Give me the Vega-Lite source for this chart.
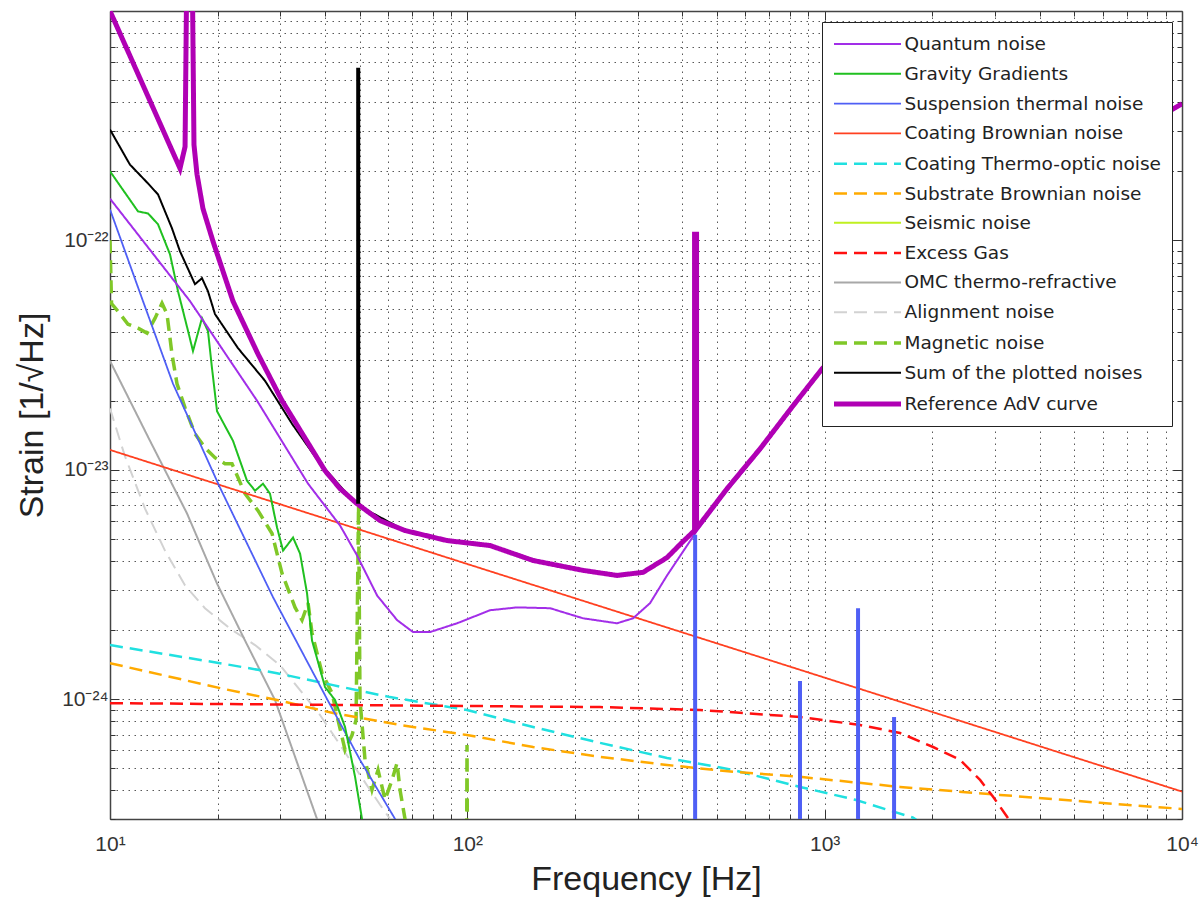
{
  "$schema": "https://vega.github.io/schema/vega-lite/v6.json",
  "width": 1072,
  "height": 808,
  "autosize": {"type": "none"},
  "padding": {"left": 110, "top": 11, "right": 21, "bottom": 84},
  "background": "white",
  "config": {
    "view": {"stroke": null},
    "font": "Liberation Sans",
    "legend": {
      "orient": "none", "legendX": 712, "legendY": 11,
      "symbolType": "M-3.35,0H3.35", "symbolSize": 400, "symbolOffset": 22,
      "labelFont": "DejaVu Sans", "labelFontSize": 18.5, "labelColor": "#222",
      "labelLimit": 0, "rowPadding": 8.8, "padding": 11,
      "fillColor": "white", "strokeColor": "#222", "labelOffset": 24.5
    }
  },
  "datasets": {
    "lines": [
      {"s": "Alignment noise", "f": 10, "v": 1.85e-23},
      {"s": "Alignment noise", "f": 11.0, "v": 1.15e-23},
      {"s": "Alignment noise", "f": 12.53, "v": 6.77e-24},
      {"s": "Alignment noise", "f": 14.25, "v": 4.44e-24},
      {"s": "Alignment noise", "f": 16.22, "v": 3.13e-24},
      {"s": "Alignment noise", "f": 18.44, "v": 2.49e-24},
      {"s": "Alignment noise", "f": 21.67, "v": 2.03e-24},
      {"s": "Alignment noise", "f": 25.46, "v": 1.72e-24},
      {"s": "Alignment noise", "f": 29.91, "v": 1.405e-24},
      {"s": "Alignment noise", "f": 34.03, "v": 1.094e-24},
      {"s": "Alignment noise", "f": 38.71, "v": 8.52e-25},
      {"s": "Alignment noise", "f": 44.04, "v": 6.31e-25},
      {"s": "Alignment noise", "f": 50.08, "v": 4.67e-25},
      {"s": "Alignment noise", "f": 56.98, "v": 3.46e-25},
      {"s": "Alignment noise", "f": 60.78, "v": 3.0e-25},
      {"s": "Alignment noise", "f": 62, "v": 2.5e-25},

      {"s": "OMC thermo-refractive", "f": 10, "v": 2.98e-23},
      {"s": "OMC thermo-refractive", "f": 12.94, "v": 1.337e-23},
      {"s": "OMC thermo-refractive", "f": 16.43, "v": 6.44e-24},
      {"s": "OMC thermo-refractive", "f": 19.93, "v": 3.19e-24},
      {"s": "OMC thermo-refractive", "f": 23.87, "v": 1.8e-24},
      {"s": "OMC thermo-refractive", "f": 28.96, "v": 9.9e-25},
      {"s": "OMC thermo-refractive", "f": 37.96, "v": 3.0e-25},
      {"s": "OMC thermo-refractive", "f": 39, "v": 2.5e-25},

      {"s": "Seismic noise", "f": 10, "v": 1e-26},
      {"s": "Seismic noise", "f": 12, "v": 5e-27},

      {"s": "Magnetic noise", "f": 10, "v": 1.0e-22},
      {"s": "Magnetic noise", "f": 10.1, "v": 5.3e-23},
      {"s": "Magnetic noise", "f": 10.53, "v": 4.91e-23},
      {"s": "Magnetic noise", "f": 11.23, "v": 4.31e-23},
      {"s": "Magnetic noise", "f": 11.98, "v": 4.14e-23},
      {"s": "Magnetic noise", "f": 12.69, "v": 3.94e-23},
      {"s": "Magnetic noise", "f": 13.37, "v": 4.58e-23},
      {"s": "Magnetic noise", "f": 13.98, "v": 5.32e-23},
      {"s": "Magnetic noise", "f": 14.44, "v": 4.77e-23},
      {"s": "Magnetic noise", "f": 14.91, "v": 3.19e-23},
      {"s": "Magnetic noise", "f": 15.4, "v": 2.37e-23},
      {"s": "Magnetic noise", "f": 16.22, "v": 1.86e-23},
      {"s": "Magnetic noise", "f": 17.29, "v": 1.434e-23},
      {"s": "Magnetic noise", "f": 18.44, "v": 1.247e-23},
      {"s": "Magnetic noise", "f": 19.67, "v": 1.128e-23},
      {"s": "Magnetic noise", "f": 20.98, "v": 1.062e-23},
      {"s": "Magnetic noise", "f": 21.95, "v": 1.062e-23},
      {"s": "Magnetic noise", "f": 23.87, "v": 7.86e-24},
      {"s": "Magnetic noise", "f": 25.96, "v": 6.63e-24},
      {"s": "Magnetic noise", "f": 28.41, "v": 5.27e-24},
      {"s": "Magnetic noise", "f": 30.3, "v": 3.53e-24},
      {"s": "Magnetic noise", "f": 32.95, "v": 2.51e-24},
      {"s": "Magnetic noise", "f": 34.47, "v": 2.21e-24},
      {"s": "Magnetic noise", "f": 35.83, "v": 2.62e-24},
      {"s": "Magnetic noise", "f": 36.76, "v": 1.94e-24},
      {"s": "Magnetic noise", "f": 39.21, "v": 1.297e-24},
      {"s": "Magnetic noise", "f": 41.82, "v": 1.062e-24},
      {"s": "Magnetic noise", "f": 43.47, "v": 8.1e-25},
      {"s": "Magnetic noise", "f": 45.48, "v": 6.0e-25},
      {"s": "Magnetic noise", "f": 47.58, "v": 6.97e-25},
      {"s": "Magnetic noise", "f": 48.82, "v": 8.1e-25},
      {"s": "Magnetic noise", "f": 49.61, "v": 6.97e-24},
      {"s": "Magnetic noise", "f": 50.08, "v": 9.9e-25},
      {"s": "Magnetic noise", "f": 51.72, "v": 5.43e-25},
      {"s": "Magnetic noise", "f": 54.11, "v": 4.02e-25},
      {"s": "Magnetic noise", "f": 56.25, "v": 4.91e-25},
      {"s": "Magnetic noise", "f": 58.85, "v": 3.64e-25},
      {"s": "Magnetic noise", "f": 61.57, "v": 4.44e-25},
      {"s": "Magnetic noise", "f": 63.59, "v": 5.27e-25},
      {"s": "Magnetic noise", "f": 64.8, "v": 4.02e-25},
      {"s": "Magnetic noise", "f": 66.93, "v": 3.0e-25},
      {"s": "Magnetic noise", "f": 67.5, "v": 2e-25},
      {"s": "Magnetic noise", "f": 99.5, "v": 2e-25},
      {"s": "Magnetic noise", "f": 99.8, "v": 6.31e-25},
      {"s": "Magnetic noise", "f": 100.1, "v": 2e-25},

      {"s": "Coating Thermo-optic noise", "f": 10, "v": 1.72e-24},
      {"s": "Coating Thermo-optic noise", "f": 20.32, "v": 1.434e-24},
      {"s": "Coating Thermo-optic noise", "f": 29.34, "v": 1.297e-24},
      {"s": "Coating Thermo-optic noise", "f": 42.09, "v": 1.15e-24},
      {"s": "Coating Thermo-optic noise", "f": 60.78, "v": 1.02e-24},
      {"s": "Coating Thermo-optic noise", "f": 99.8, "v": 8.96e-25},
      {"s": "Coating Thermo-optic noise", "f": 152.8, "v": 7.55e-25},
      {"s": "Coating Thermo-optic noise", "f": 235.2, "v": 6.44e-25},
      {"s": "Coating Thermo-optic noise", "f": 362.2, "v": 5.54e-25},
      {"s": "Coating Thermo-optic noise", "f": 554.2, "v": 4.91e-25},
      {"s": "Coating Thermo-optic noise", "f": 853.4, "v": 4.14e-25},
      {"s": "Coating Thermo-optic noise", "f": 1217, "v": 3.64e-25},
      {"s": "Coating Thermo-optic noise", "f": 1768, "v": 3.04e-25},
      {"s": "Coating Thermo-optic noise", "f": 1850, "v": 2.9e-25},

      {"s": "Substrate Brownian noise", "f": 10, "v": 1.434e-24},
      {"s": "Substrate Brownian noise", "f": 20.32, "v": 1.116e-24},
      {"s": "Substrate Brownian noise", "f": 29.34, "v": 9.9e-25},
      {"s": "Substrate Brownian noise", "f": 42.09, "v": 8.69e-25},
      {"s": "Substrate Brownian noise", "f": 64.8, "v": 7.71e-25},
      {"s": "Substrate Brownian noise", "f": 99.8, "v": 6.97e-25},
      {"s": "Substrate Brownian noise", "f": 152.8, "v": 6.18e-25},
      {"s": "Substrate Brownian noise", "f": 235.2, "v": 5.6e-25},
      {"s": "Substrate Brownian noise", "f": 362.2, "v": 5.16e-25},
      {"s": "Substrate Brownian noise", "f": 554.2, "v": 4.82e-25},
      {"s": "Substrate Brownian noise", "f": 853.4, "v": 4.58e-25},
      {"s": "Substrate Brownian noise", "f": 1626, "v": 4.14e-25},
      {"s": "Substrate Brownian noise", "f": 3097, "v": 3.82e-25},
      {"s": "Substrate Brownian noise", "f": 5901, "v": 3.53e-25},
      {"s": "Substrate Brownian noise", "f": 10000, "v": 3.32e-25},

      {"s": "Excess Gas", "f": 10, "v": 9.6e-25},
      {"s": "Excess Gas", "f": 235.2, "v": 9.23e-25},
      {"s": "Excess Gas", "f": 448, "v": 8.96e-25},
      {"s": "Excess Gas", "f": 853.4, "v": 8.35e-25},
      {"s": "Excess Gas", "f": 1256, "v": 7.71e-25},
      {"s": "Excess Gas", "f": 1626, "v": 7.11e-25},
      {"s": "Excess Gas", "f": 2011, "v": 6.18e-25},
      {"s": "Excess Gas", "f": 2393, "v": 5.43e-25},
      {"s": "Excess Gas", "f": 2722, "v": 4.44e-25},
      {"s": "Excess Gas", "f": 2960, "v": 3.75e-25},
      {"s": "Excess Gas", "f": 3239, "v": 3.07e-25},
      {"s": "Excess Gas", "f": 3346, "v": 2.8e-25},

      {"s": "Coating Brownian noise", "f": 10, "v": 1.22e-23},
      {"s": "Coating Brownian noise", "f": 100, "v": 3.88e-24},
      {"s": "Coating Brownian noise", "f": 1000, "v": 1.24e-24},
      {"s": "Coating Brownian noise", "f": 10000, "v": 3.95e-25},

      {"s": "Suspension thermal noise", "f": 10, "v": 1.364e-22},
      {"s": "Suspension thermal noise", "f": 12.37, "v": 5.43e-23},
      {"s": "Suspension thermal noise", "f": 15.01, "v": 2.37e-23},
      {"s": "Suspension thermal noise", "f": 20.32, "v": 8.35e-24},
      {"s": "Suspension thermal noise", "f": 28.59, "v": 2.78e-24},
      {"s": "Suspension thermal noise", "f": 40.5, "v": 1.0e-24},
      {"s": "Suspension thermal noise", "f": 50.08, "v": 5.43e-25},
      {"s": "Suspension thermal noise", "f": 62.77, "v": 3.0e-25},
      {"s": "Suspension thermal noise", "f": 64, "v": 2.5e-25},

      {"s": "Gravity Gradients", "f": 10, "v": 2.0e-22},
      {"s": "Gravity Gradients", "f": 11.98, "v": 1.337e-22},
      {"s": "Gravity Gradients", "f": 12.78, "v": 1.31e-22},
      {"s": "Gravity Gradients", "f": 13.63, "v": 1.174e-22},
      {"s": "Gravity Gradients", "f": 14.72, "v": 8.69e-23},
      {"s": "Gravity Gradients", "f": 15.5, "v": 6.0e-23},
      {"s": "Gravity Gradients", "f": 16.54, "v": 4.02e-23},
      {"s": "Gravity Gradients", "f": 17.07, "v": 3.29e-23},
      {"s": "Gravity Gradients", "f": 18.09, "v": 4.58e-23},
      {"s": "Gravity Gradients", "f": 18.8, "v": 4.02e-23},
      {"s": "Gravity Gradients", "f": 19.29, "v": 2.78e-23},
      {"s": "Gravity Gradients", "f": 19.93, "v": 1.8e-23},
      {"s": "Gravity Gradients", "f": 22.09, "v": 1.337e-23},
      {"s": "Gravity Gradients", "f": 24.17, "v": 8.96e-24},
      {"s": "Gravity Gradients", "f": 25.46, "v": 8.1e-24},
      {"s": "Gravity Gradients", "f": 26.8, "v": 8.69e-24},
      {"s": "Gravity Gradients", "f": 28.04, "v": 7.86e-24},
      {"s": "Gravity Gradients", "f": 29.34, "v": 5.6e-24},
      {"s": "Gravity Gradients", "f": 30.5, "v": 4.44e-24},
      {"s": "Gravity Gradients", "f": 32.53, "v": 5.06e-24},
      {"s": "Gravity Gradients", "f": 34.03, "v": 4.31e-24},
      {"s": "Gravity Gradients", "f": 35.6, "v": 2.89e-24},
      {"s": "Gravity Gradients", "f": 36.76, "v": 1.8e-24},
      {"s": "Gravity Gradients", "f": 39.98, "v": 1.128e-24},
      {"s": "Gravity Gradients", "f": 42.64, "v": 9.9e-25},
      {"s": "Gravity Gradients", "f": 45.48, "v": 7.55e-25},
      {"s": "Gravity Gradients", "f": 48.51, "v": 4.58e-25},
      {"s": "Gravity Gradients", "f": 50.73, "v": 3.0e-25},
      {"s": "Gravity Gradients", "f": 51.5, "v": 2.5e-25},

      {"s": "Quantum noise", "f": 10, "v": 1.52e-22},
      {"s": "Quantum noise", "f": 16.75, "v": 5.43e-23},
      {"s": "Quantum noise", "f": 25.79, "v": 2.0e-23},
      {"s": "Quantum noise", "f": 35.83, "v": 8.69e-24},
      {"s": "Quantum noise", "f": 44.04, "v": 5.71e-24},
      {"s": "Quantum noise", "f": 49.13, "v": 4.23e-24},
      {"s": "Quantum noise", "f": 55.9, "v": 2.83e-24},
      {"s": "Quantum noise", "f": 63.59, "v": 2.21e-24},
      {"s": "Quantum noise", "f": 70.47, "v": 1.96e-24},
      {"s": "Quantum noise", "f": 78.63, "v": 1.96e-24},
      {"s": "Quantum noise", "f": 93.59, "v": 2.14e-24},
      {"s": "Quantum noise", "f": 115.8, "v": 2.44e-24},
      {"s": "Quantum noise", "f": 137.8, "v": 2.51e-24},
      {"s": "Quantum noise", "f": 170.4, "v": 2.49e-24},
      {"s": "Quantum noise", "f": 210.8, "v": 2.25e-24},
      {"s": "Quantum noise", "f": 262.4, "v": 2.14e-24},
      {"s": "Quantum noise", "f": 290.9, "v": 2.25e-24},
      {"s": "Quantum noise", "f": 324.6, "v": 2.62e-24},
      {"s": "Quantum noise", "f": 362.2, "v": 3.46e-24},
      {"s": "Quantum noise", "f": 439.5, "v": 5.43e-24},
      {"s": "Quantum noise", "f": 533.2, "v": 8.1e-24},
      {"s": "Quantum noise", "f": 659.6, "v": 1.21e-23},
      {"s": "Quantum noise", "f": 815.6, "v": 1.87e-23},
      {"s": "Quantum noise", "f": 983, "v": 2.72e-23},
      {"s": "Quantum noise", "f": 1626, "v": 5.95e-23},
      {"s": "Quantum noise", "f": 3097, "v": 1.26e-22},
      {"s": "Quantum noise", "f": 5901, "v": 2.42e-22},
      {"s": "Quantum noise", "f": 10000, "v": 3.9e-22},

      {"s": "Sum of the plotted noises", "f": 10, "v": 3.04e-22},
      {"s": "Sum of the plotted noises", "f": 11.37, "v": 2.14e-22},
      {"s": "Sum of the plotted noises", "f": 12.78, "v": 1.77e-22},
      {"s": "Sum of the plotted noises", "f": 13.63, "v": 1.585e-22},
      {"s": "Sum of the plotted noises", "f": 14.91, "v": 1.128e-22},
      {"s": "Sum of the plotted noises", "f": 15.7, "v": 8.96e-23},
      {"s": "Sum of the plotted noises", "f": 17.29, "v": 6.44e-23},
      {"s": "Sum of the plotted noises", "f": 18.09, "v": 6.84e-23},
      {"s": "Sum of the plotted noises", "f": 18.8, "v": 6.0e-23},
      {"s": "Sum of the plotted noises", "f": 19.67, "v": 4.77e-23},
      {"s": "Sum of the plotted noises", "f": 22.81, "v": 3.39e-23},
      {"s": "Sum of the plotted noises", "f": 27.16, "v": 2.44e-23},
      {"s": "Sum of the plotted noises", "f": 32.32, "v": 1.585e-23},
      {"s": "Sum of the plotted noises", "f": 38.21, "v": 1.094e-23},
      {"s": "Sum of the plotted noises", "f": 43.47, "v": 8.69e-24},
      {"s": "Sum of the plotted noises", "f": 48.82, "v": 7.11e-24},
      {"s": "Sum of the plotted noises", "f": 50.73, "v": 6.84e-24},
      {"s": "Sum of the plotted noises", "f": 66.93, "v": 5.43e-24},
      {"s": "Sum of the plotted noises", "f": 87.74, "v": 4.91e-24},
      {"s": "Sum of the plotted noises", "f": 115.8, "v": 4.67e-24},
      {"s": "Sum of the plotted noises", "f": 152.8, "v": 4.02e-24},
      {"s": "Sum of the plotted noises", "f": 210.8, "v": 3.64e-24},
      {"s": "Sum of the plotted noises", "f": 262.4, "v": 3.46e-24},
      {"s": "Sum of the plotted noises", "f": 310.3, "v": 3.57e-24},
      {"s": "Sum of the plotted noises", "f": 362.2, "v": 4.14e-24},
      {"s": "Sum of the plotted noises", "f": 439.5, "v": 5.6e-24},
      {"s": "Sum of the plotted noises", "f": 533.2, "v": 8.27e-24},
      {"s": "Sum of the plotted noises", "f": 659.6, "v": 1.234e-23},
      {"s": "Sum of the plotted noises", "f": 815.6, "v": 1.9e-23},
      {"s": "Sum of the plotted noises", "f": 983, "v": 2.75e-23},
      {"s": "Sum of the plotted noises", "f": 1626, "v": 6.0e-23},
      {"s": "Sum of the plotted noises", "f": 3097, "v": 1.27e-22},
      {"s": "Sum of the plotted noises", "f": 5901, "v": 2.44e-22},
      {"s": "Sum of the plotted noises", "f": 10000, "v": 3.94e-22},

      {"s": "Reference AdV curve", "f": 10, "v": 1.0e-21},
      {"s": "Reference AdV curve", "f": 15.7, "v": 2.06e-22},
      {"s": "Reference AdV curve", "f": 16.22, "v": 2.56e-22},
      {"s": "Reference AdV curve", "f": 16.43, "v": 2e-21},
      {"s": "Reference AdV curve", "f": 16.96, "v": 2e-21},
      {"s": "Reference AdV curve", "f": 17.18, "v": 2.61e-22},
      {"s": "Reference AdV curve", "f": 17.52, "v": 1.94e-22},
      {"s": "Reference AdV curve", "f": 18.2, "v": 1.377e-22},
      {"s": "Reference AdV curve", "f": 19.42, "v": 9.9e-23},
      {"s": "Reference AdV curve", "f": 22.09, "v": 5.43e-23},
      {"s": "Reference AdV curve", "f": 25.96, "v": 3.19e-23},
      {"s": "Reference AdV curve", "f": 30.3, "v": 2.0e-23},
      {"s": "Reference AdV curve", "f": 34.03, "v": 1.49e-23},
      {"s": "Reference AdV curve", "f": 39.98, "v": 9.9e-24},
      {"s": "Reference AdV curve", "f": 44.04, "v": 8.27e-24},
      {"s": "Reference AdV curve", "f": 49.13, "v": 7.11e-24},
      {"s": "Reference AdV curve", "f": 56.98, "v": 6.0e-24},
      {"s": "Reference AdV curve", "f": 66.93, "v": 5.43e-24},
      {"s": "Reference AdV curve", "f": 87.74, "v": 4.91e-24},
      {"s": "Reference AdV curve", "f": 115.8, "v": 4.67e-24},
      {"s": "Reference AdV curve", "f": 152.8, "v": 4.02e-24},
      {"s": "Reference AdV curve", "f": 210.8, "v": 3.64e-24},
      {"s": "Reference AdV curve", "f": 262.4, "v": 3.46e-24},
      {"s": "Reference AdV curve", "f": 310.3, "v": 3.57e-24},
      {"s": "Reference AdV curve", "f": 362.2, "v": 4.14e-24},
      {"s": "Reference AdV curve", "f": 399, "v": 4.82e-24},
      {"s": "Reference AdV curve", "f": 432.4, "v": 5.43e-24},
      {"s": "Reference AdV curve", "f": 432.4, "v": 1.062e-22},
      {"s": "Reference AdV curve", "f": 438.0, "v": 1.062e-22},
      {"s": "Reference AdV curve", "f": 438.0, "v": 5.54e-24},
      {"s": "Reference AdV curve", "f": 533.2, "v": 8.27e-24},
      {"s": "Reference AdV curve", "f": 659.6, "v": 1.234e-23},
      {"s": "Reference AdV curve", "f": 815.6, "v": 1.9e-23},
      {"s": "Reference AdV curve", "f": 983, "v": 2.75e-23},
      {"s": "Reference AdV curve", "f": 1626, "v": 6.0e-23},
      {"s": "Reference AdV curve", "f": 3097, "v": 1.27e-22},
      {"s": "Reference AdV curve", "f": 5901, "v": 2.44e-22},
      {"s": "Reference AdV curve", "f": 10000, "v": 3.94e-22}
    ],
    "spikes": [
      {"s": "Suspension thermal noise", "f": 434, "lo": 3e-25, "hi": 5.2e-24},
      {"s": "Suspension thermal noise", "f": 853, "lo": 3e-25, "hi": 1.2e-24},
      {"s": "Suspension thermal noise", "f": 1240, "lo": 3e-25, "hi": 2.49e-24},
      {"s": "Suspension thermal noise", "f": 1564, "lo": 3e-25, "hi": 8.35e-25},
      {"s": "Sum of the plotted noises", "f": 49.5, "lo": 7.1e-24, "hi": 5.65e-22}
    ]
  },
  "layer": [
    {
      "data": {"name": "lines"},
      "mark": {"type": "line", "clip": true},
      "encoding": {
        "x": {
          "field": "f", "type": "quantitative",
          "scale": {"type": "log", "domain": [10, 10000], "nice": false},
          "axis": {
            "orient": "bottom",
            "values": [10,20,30,40,50,60,70,80,90,100,200,300,400,500,600,700,800,900,1000,2000,3000,4000,5000,6000,7000,8000,9000,10000],
            "labelExpr": "datum.value == 10 ? '10¹' : datum.value == 100 ? '10²' : datum.value == 1000 ? '10³' : datum.value == 10000 ? '10⁴' : ''",
            "labelFlush": false, "labelOverlap": false,
            "labelFont": "Liberation Sans", "labelFontSize": 21, "labelColor": "#333", "labelPadding": 23,
            "tickSize": {"condition": {"test": "abs(log(datum.value)/LN10 - round(log(datum.value)/LN10)) < 0.01", "value": -9}, "value": -5},
            "tickColor": "#333",
            "grid": true, "gridColor": "#111", "gridDash": [1.5, 4.5], "gridOpacity": 0.7,
            "domainColor": "#444", "domainWidth": 1.5,
            "title": "Frequency [Hz]", "titleFont": "Liberation Sans", "titleFontSize": 34,
            "titleFontWeight": "normal", "titleColor": "#222", "titlePadding": 4
          }
        },
        "y": {
          "field": "v", "type": "quantitative",
          "scale": {"type": "log", "domain": [3e-25, 1e-21], "nice": false},
          "axis": {
            "orient": "left",
            "values": [3e-25,4e-25,5e-25,6e-25,7e-25,8e-25,9e-25,1e-24,2e-24,3e-24,4e-24,5e-24,6e-24,7e-24,8e-24,9e-24,1e-23,2e-23,3e-23,4e-23,5e-23,6e-23,7e-23,8e-23,9e-23,1e-22,2e-22,3e-22,4e-22,5e-22,6e-22,7e-22,8e-22,9e-22],
            "labelExpr": "datum.value == 1e-22 ? '10⁻²²' : datum.value == 1e-23 ? '10⁻²³' : datum.value == 1e-24 ? '10⁻²⁴' : ''",
            "labelOverlap": false,
            "labelFont": "Liberation Sans", "labelFontSize": 21, "labelColor": "#333", "labelPadding": 11,
            "tickSize": {"condition": {"test": "abs(log(datum.value)/LN10 - round(log(datum.value)/LN10)) < 0.01", "value": -9}, "value": -5},
            "tickColor": "#333",
            "grid": true, "gridColor": "#111", "gridDash": [1.5, 4.5], "gridOpacity": 0.7,
            "domainColor": "#444", "domainWidth": 1.5,
            "title": "Strain [1/√Hz]", "titleFont": "Liberation Sans", "titleFontSize": 34,
            "titleFontWeight": "normal", "titleColor": "#222", "titlePadding": 12
          }
        },
        "color": {
          "field": "s", "type": "nominal",
          "scale": {
            "domain": ["Quantum noise", "Gravity Gradients", "Suspension thermal noise", "Coating Brownian noise", "Coating Thermo-optic noise", "Substrate Brownian noise", "Seismic noise", "Excess Gas", "OMC thermo-refractive", "Alignment noise", "Magnetic noise", "Sum of the plotted noises", "Reference AdV curve"],
            "range": ["#a22ee8", "#20c020", "#4f5ff5", "#ff4020", "#20e0e0", "#ffaa00", "#c0f020", "#ff1010", "#a8a8a8", "#d2d2d2", "#80c828", "#000000", "#b000b4"]
          },
          "legend": {"title": null}
        },
        "strokeDash": {
          "field": "s", "type": "nominal",
          "scale": {
            "domain": ["Quantum noise", "Gravity Gradients", "Suspension thermal noise", "Coating Brownian noise", "Coating Thermo-optic noise", "Substrate Brownian noise", "Seismic noise", "Excess Gas", "OMC thermo-refractive", "Alignment noise", "Magnetic noise", "Sum of the plotted noises", "Reference AdV curve"],
            "range": [[1,0], [1,0], [1,0], [1,0], [13,7], [13,7], [1,0], [13,7], [1,0], [13,7], [13,7], [1,0], [1,0]]
          },
          "legend": {"title": null}
        },
        "strokeWidth": {
          "field": "s", "type": "nominal",
          "scale": {
            "type": "ordinal",
            "domain": ["Quantum noise", "Gravity Gradients", "Suspension thermal noise", "Coating Brownian noise", "Coating Thermo-optic noise", "Substrate Brownian noise", "Seismic noise", "Excess Gas", "OMC thermo-refractive", "Alignment noise", "Magnetic noise", "Sum of the plotted noises", "Reference AdV curve"],
            "range": [2, 2, 1.8, 1.8, 2.5, 2.5, 2, 2.5, 2, 2, 3.5, 2, 5]
          },
          "legend": {"title": null}
        },
        "order": {"value": null}
      }
    },
    {
      "data": {"name": "spikes"},
      "mark": {"type": "rule", "clip": true, "strokeWidth": 4},
      "encoding": {
        "x": {
          "field": "f", "type": "quantitative",
          "axis": {
            "orient": "top",
            "values": [10,20,30,40,50,60,70,80,90,100,200,300,400,500,600,700,800,900,1000,2000,3000,4000,5000,6000,7000,8000,9000,10000],
            "labels": false, "grid": false, "title": null,
            "tickSize": {"condition": {"test": "abs(log(datum.value)/LN10 - round(log(datum.value)/LN10)) < 0.01", "value": -9}, "value": -5},
            "tickColor": "#333", "domainColor": "#444", "domainWidth": 1.5
          }
        },
        "y": {
          "field": "lo", "type": "quantitative",
          "axis": {
            "orient": "right",
            "values": [3e-25,4e-25,5e-25,6e-25,7e-25,8e-25,9e-25,1e-24,2e-24,3e-24,4e-24,5e-24,6e-24,7e-24,8e-24,9e-24,1e-23,2e-23,3e-23,4e-23,5e-23,6e-23,7e-23,8e-23,9e-23,1e-22,2e-22,3e-22,4e-22,5e-22,6e-22,7e-22,8e-22,9e-22],
            "labels": false, "grid": false, "title": null,
            "tickSize": {"condition": {"test": "abs(log(datum.value)/LN10 - round(log(datum.value)/LN10)) < 0.01", "value": -9}, "value": -5},
            "tickColor": "#333", "domainColor": "#444", "domainWidth": 1.5
          }
        },
        "y2": {"field": "hi"},
        "color": {"field": "s", "type": "nominal", "legend": null}
      }
    }
  ],
  "resolve": {"axis": {"x": "independent", "y": "independent"}}
}
